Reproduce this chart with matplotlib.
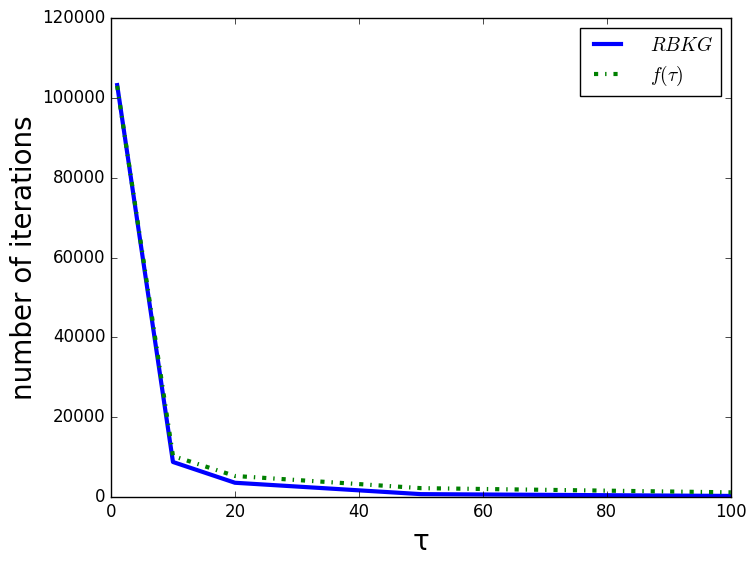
import matplotlib
matplotlib.use('agg')
import matplotlib.pyplot as plt

# iteration counts
tau = [1, 10, 20, 50, 100]
rbkg = [103200, 8800, 3600, 750, 300]
f_tau = [103000, 10300, 5300, 2250, 1200]

plt.style.use('classic')
plt.rcParams['mathtext.fontset'] = 'cm'

fig = plt.figure(figsize=(7.55, 5.63), dpi=100)
ax = fig.add_axes([0.147, 0.117, 0.821, 0.851])

ax.plot(tau, rbkg, 'b-', linewidth=3, label=r'$RBKG$')
ax.plot(tau, f_tau, 'g-.', linewidth=3, label=r'$f(\tau)$')

ax.set_xlim(0, 100)
ax.set_ylim(0, 120000)
ax.set_xlabel(u'\u03c4', fontsize=20)
ax.set_ylabel('number of iterations', fontsize=20, labelpad=3)

leg = ax.legend(loc='upper right', fontsize=14, handletextpad=1.2)

fig.savefig('out.png', dpi=100)
